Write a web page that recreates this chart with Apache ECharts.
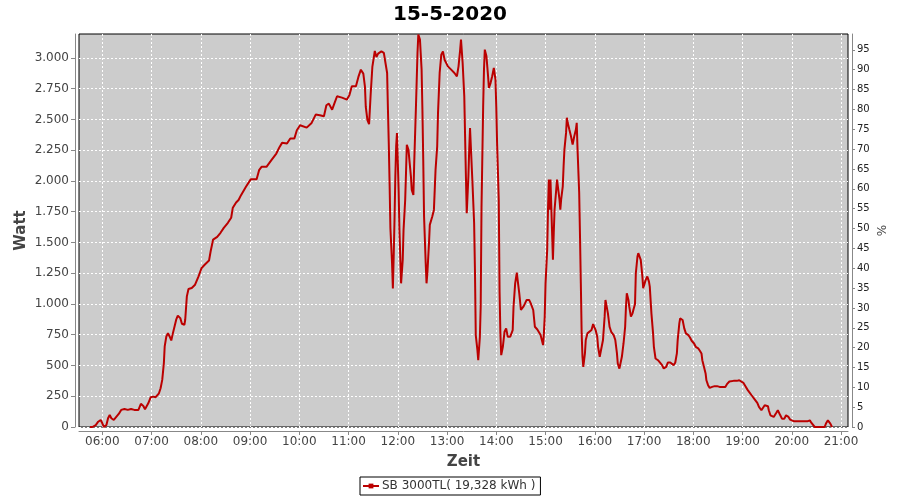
<!DOCTYPE html>
<html>
<head>
<meta charset="utf-8">
<script src="https://cdn.jsdelivr.net/npm/echarts@6/dist/echarts.min.js"></script>
<style>html,body{margin:0;padding:0;background:#fff}#c{width:900px;height:500px}</style>
</head>
<body>
<div id="c"></div>
<script>
const times = ["05:45","05:48","05:52","05:55","05:58","06:00","06:02","06:05","06:07","06:09","06:11","06:14","06:16","06:20","06:23","06:27","06:31","06:35","06:39","06:44","06:47","06:50","06:52","06:54","06:56","06:59","07:02","07:05","07:09","07:11","07:13","07:15","07:16","07:18","07:20","07:22","07:24","07:26","07:30","07:32","07:35","07:37","07:40","07:41","07:43","07:45","07:49","07:53","07:57","08:01","08:05","08:10","08:12","08:15","08:20","08:24","08:28","08:33","08:37","08:39","08:43","08:46","08:49","08:55","09:01","09:08","09:11","09:14","09:20","09:26","09:32","09:36","09:39","09:45","09:49","09:54","09:57","10:01","10:09","10:15","10:20","10:25","10:30","10:33","10:36","10:40","10:43","10:46","10:52","10:58","11:01","11:04","11:09","11:12","11:15","11:18","11:20","11:21","11:23","11:25","11:27","11:29","11:32","11:34","11:36","11:40","11:43","11:45","11:47","11:48","11:49","11:50","11:51","11:53","11:54","11:55","11:56","11:57","11:58","11:59","12:01","12:02","12:04","12:06","12:07","12:09","12:10","12:11","12:13","12:16","12:17","12:19","12:20","12:22","12:24","12:25","12:27","12:29","12:30","12:31","12:32","12:34","12:35","12:36","12:38","12:39","12:42","12:44","12:45","12:46","12:48","12:49","12:51","12:53","12:55","12:57","13:01","13:05","13:09","13:12","13:14","13:16","13:17","13:19","13:21","13:22","13:23","13:24","13:26","13:27","13:28","13:30","13:31","13:33","13:34","13:35","13:37","13:38","13:40","13:41","13:42","13:44","13:45","13:46","13:48","13:50","13:51","13:53","13:55","13:57","13:59","14:00","14:01","14:03","14:04","14:05","14:06","14:08","14:10","14:12","14:14","14:17","14:20","14:21","14:23","14:25","14:26","14:28","14:30","14:33","14:35","14:37","14:40","14:42","14:45","14:47","14:50","14:52","14:54","14:57","14:58","14:59","15:00","15:02","15:03","15:04","15:05","15:06","15:08","15:09","15:10","15:11","15:13","15:14","15:15","15:17","15:18","15:19","15:21","15:22","15:23","15:25","15:26","15:27","15:29","15:31","15:33","15:35","15:37","15:38","15:39","15:41","15:42","15:43","15:44","15:45","15:46","15:48","15:49","15:51","15:53","15:56","15:58","16:00","16:01","16:03","16:04","16:06","16:08","16:10","16:12","16:13","16:15","16:16","16:18","16:20","16:23","16:25","16:27","16:28","16:30","16:32","16:33","16:35","16:37","16:38","16:39","16:41","16:42","16:44","16:46","16:47","16:49","16:50","16:52","16:53","16:54","16:56","16:58","16:59","17:01","17:02","17:04","17:06","17:07","17:09","17:11","17:12","17:14","17:15","17:17","17:19","17:22","17:24","17:27","17:29","17:32","17:34","17:36","17:38","17:40","17:41","17:43","17:44","17:45","17:47","17:49","17:51","17:54","17:56","17:58","18:01","18:03","18:06","18:08","18:10","18:11","18:13","18:15","18:16","18:18","18:20","18:23","18:26","18:29","18:32","18:36","18:39","18:41","18:44","18:46","18:49","18:53","18:56","18:58","19:01","19:03","19:06","19:08","19:11","19:13","19:15","19:18","19:20","19:23","19:24","19:27","19:29","19:31","19:32","19:34","19:36","19:38","19:41","19:43","19:45","19:46","19:48","19:49","19:51","19:53","19:54","19:56","19:58","20:00","20:03","20:07","20:11","20:15","20:19","20:22","20:24","20:28","20:32","20:36","20:40","20:42","20:44","20:47","20:49"];
const watts = [0,0,16,43,57,30,0,16,71,98,71,57,63,106,139,147,139,147,139,139,188,171,144,139,193,242,247,242,274,315,383,519,655,736,763,736,704,763,872,905,885,839,831,872,1062,1122,1130,1157,1220,1293,1321,1353,1429,1524,1546,1579,1619,1660,1701,1783,1825,1845,1885,1953,2015,2015,2088,2115,2115,2169,2223,2277,2310,2305,2345,2345,2413,2453,2434,2472,2540,2535,2526,2616,2629,2580,2635,2689,2678,2662,2697,2770,2770,2846,2905,2873,2765,2602,2494,2462,2711,2927,3057,3008,3035,3054,3041,2959,2878,2579,2308,1982,1616,1331,1127,1385,1684,2036,2281,2389,1928,1602,1168,1358,1602,1846,2064,2294,2253,2036,1928,1887,2145,2579,3041,3190,3149,2905,2579,2172,1711,1331,1168,1249,1493,1643,1711,1765,1928,2091,2281,2552,2878,3027,3054,2986,2932,2905,2878,2851,2932,3068,3149,2959,2688,2362,2036,1738,2036,2253,2430,2438,1982,1656,1276,747,625,543,733,978,1792,2606,2905,3068,3014,2851,2756,2796,2851,2919,2824,2600,2300,1846,1100,761,584,652,774,802,734,734,788,978,1168,1255,1196,1087,951,978,1005,1033,1033,1005,951,815,793,788,747,666,761,897,1168,1440,1766,2011,1766,2011,1576,1359,1576,1766,1929,2011,1957,1848,1766,1848,1957,2120,2255,2391,2514,2473,2418,2364,2296,2364,2418,2473,2255,1902,1549,1168,761,571,489,598,707,761,761,788,837,848,788,734,652,571,571,707,897,1033,1033,924,815,774,747,707,598,516,475,489,571,679,815,978,1087,1033,978,897,924,951,1000,1250,1386,1413,1418,1359,1223,1128,1128,1196,1223,1182,1141,924,761,652,557,552,543,557,503,476,489,524,524,516,503,522,598,707,842,883,897,870,802,761,747,728,701,679,652,639,620,598,543,489,435,380,340,318,326,332,332,326,326,326,348,370,380,375,375,380,380,359,337,304,285,258,245,223,196,163,136,150,177,190,169,136,95,82,82,114,136,141,95,68,54,68,95,103,82,60,46,46,46,46,46,46,54,33,0,0,0,0,33,54,27,0];
const hourTicks = ["06:00","07:00","08:00","09:00","10:00","11:00","12:00","13:00","14:00","15:00","16:00","17:00","18:00","19:00","20:00","21:00"];
const wattTicks = [0,250,500,750,1000,1250,1500,1750,2000,2250,2500,2750,3000];
const pctTicks = [0,5,10,15,20,25,30,35,40,45,50,55,60,65,70,75,80,85,90,95];
const seriesName = "SB 3000TL( 19,328 kWh )";
const chartTitle = "15-5-2020";

function toMin(s){const p=s.split(':');return (+p[0])*60+(+p[1]);}
function pad(n){return (n<10?'0':'')+n;}
const data = times.map((t,i)=>[toMin(t), watts[i]]);
const hourVals = hourTicks.map(toMin);
const FF = 'DejaVu Sans';
const chart = echarts.init(document.getElementById('c'), null, {renderer:'canvas'});
chart.setOption({
  animation:false,
  backgroundColor:'#ffffff',
  title:{text:chartTitle,left:'center',top:0,textStyle:{fontFamily:FF,fontSize:20,fontWeight:'bold',color:'#000'}},
  legend:{data:[seriesName],left:360,top:477,itemWidth:16,itemHeight:6,itemGap:5,borderColor:'#000',borderWidth:1,borderRadius:0,padding:[3,5,3,2],
    textStyle:{fontFamily:FF,fontSize:12,color:'#333',padding:[0,0,0,-2]}},
  grid:{left:79,right:52,top:34,bottom:73,show:true,backgroundColor:'#cccccc',borderColor:'#000',borderWidth:1},
  xAxis:{type:'value',min:331.6,max:1268.5,offset:4,
    axisLine:{show:true,onZero:false,lineStyle:{color:'#888'}},
    axisTick:{show:true,length:4,customValues:hourVals,lineStyle:{color:'#888'}},
    axisLabel:{customValues:hourVals,margin:5,color:'#444',fontFamily:FF,fontSize:12,
      formatter:v=>pad(Math.floor(v/60))+':'+pad(Math.round(v%60))},
    splitLine:{show:true,lineStyle:{color:'#ffffff',width:1,type:[2,2]}},
    name:'Zeit',nameLocation:'middle',nameGap:24,nameTextStyle:{fontFamily:FF,fontSize:15,fontWeight:'bold',color:'#444'}},
  yAxis:[
    {type:'value',position:'left',min:0,max:3195,offset:4,
     axisLine:{show:true,onZero:false,lineStyle:{color:'#888'}},
     axisTick:{show:true,length:4,customValues:wattTicks,lineStyle:{color:'#888'}},
     axisLabel:{customValues:wattTicks,margin:6,color:'#444',fontFamily:FF,fontSize:12,
       formatter:v=>String(v).replace(/\B(?=(\d{3})+(?!\d))/g,'.')},
     splitLine:{show:true,lineStyle:{color:'#ffffff',width:1,type:[2,2]}},
     name:'Watt',nameLocation:'middle',nameGap:46,nameRotate:90,nameMoveOverlap:false,nameTextStyle:{fontFamily:FF,fontSize:15,fontWeight:'bold',color:'#444'}},
    {type:'value',position:'right',min:0,max:99,offset:4,
     axisLine:{show:true,onZero:false,lineStyle:{color:'#888'}},
     axisTick:{show:true,length:3,customValues:pctTicks,lineStyle:{color:'#888'}},
     axisLabel:{customValues:pctTicks,margin:5,color:'#222',fontFamily:FF,fontSize:10},
     splitLine:{show:false},
     name:'%',nameLocation:'middle',nameGap:25,nameRotate:90,nameMoveOverlap:false,nameTextStyle:{fontFamily:FF,fontSize:12,color:'#444'}}
  ],
  series:[{type:'line',name:seriesName,yAxisIndex:0,data:data,showSymbol:false,symbol:'rect',symbolSize:4,
    lineStyle:{color:'#bb0000',width:2},itemStyle:{color:'#bb0000'}}]
});
</script>
</body>
</html>
